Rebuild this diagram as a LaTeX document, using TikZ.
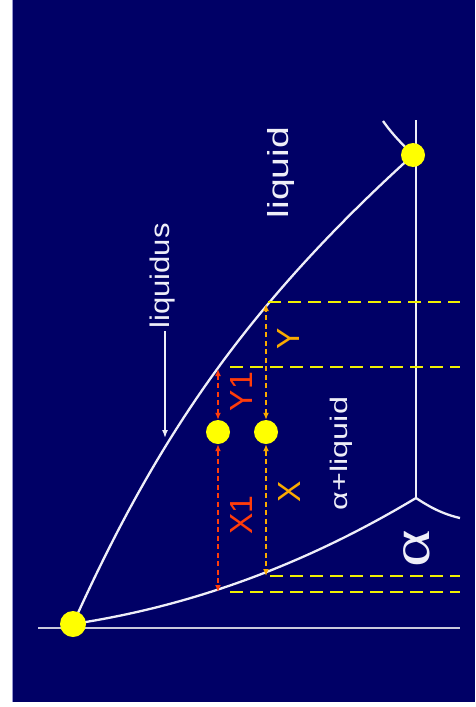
\documentclass[tikz,border=0pt]{standalone}
\usepackage{fontspec}
\setmainfont{Liberation Sans}
\newfontfamily\alphaserif{Liberation Serif}
\usetikzlibrary{arrows.meta}
\definecolor{navy}{RGB}{0,0,102}
\definecolor{dotyellow}{RGB}{255,255,0}
\definecolor{guideyellow}{RGB}{240,240,0}
\definecolor{redarr}{RGB}{255,60,10}
\definecolor{orangearr}{RGB}{250,170,0}
\definecolor{linewhite}{RGB}{238,238,248}
\definecolor{axisgrey}{RGB}{200,200,220}
\definecolor{edgeblue}{RGB}{150,150,210}
\begin{document}
\begin{tikzpicture}[x=1pt,y=-1pt,
  phaseline/.style={draw=linewhite, line width=2.3pt},
  guide/.style={draw=guideyellow, line width=2.4pt, dash pattern=on 13pt off 7pt},
  lever/.style={line width=2.3pt, dash pattern=on 5pt off 3.5pt,
    {Latex[length=7pt,width=6pt]}-{Latex[length=7pt,width=6pt]}},
  dot/.style={circle, fill=dotyellow, inner sep=0pt, minimum size=#1},
  dot/.default=24pt,
  label/.style={rotate=90, inner sep=0pt, text=linewhite},
  letter/.style={rotate=90, inner sep=0pt, font=\fontsize{32}{36}\selectfont}]
\useasboundingbox (0,0) rectangle (475,707);
\fill[white] (0,0) rectangle (475,707);
\fill[navy] (12,0) rectangle (475,702);
\draw[edgeblue, line width=1pt] (12.5,0) -- (12.5,702);

% key points
\coordinate (axL) at (38,628);
\coordinate (axR) at (460,628);
\coordinate (isoTop) at (416,120);
\coordinate (junc) at (416,498);
\coordinate (solvEnd) at (460,518);
\coordinate (topArcStart) at (383,121);
\coordinate (eutC) at (413,155);
\coordinate (mpC) at (73,624);

% axis and isotherm
\draw[phaseline, draw=axisgrey, line width=2.4pt] (axL) -- (axR);
\draw[phaseline] (isoTop) -- (junc);

% liquidus
\draw[phaseline] (eutC) .. controls (243,309) and (155,442) .. (mpC);
% solidus
\draw[phaseline] (mpC) .. controls (203,604.5) and (316,558) .. (junc);
% solvus
\draw[phaseline] (junc) .. controls (428,506) and (442,514) .. (solvEnd);
% small arc at top
\draw[phaseline] (topArcStart) .. controls (390,131) and (397,139) .. (eutC);

% guide lines
\coordinate (g1a) at (268,302); \coordinate (g1b) at (460,302);
\coordinate (g2a) at (230,367); \coordinate (g2b) at (460,367);
\coordinate (g3a) at (270,576); \coordinate (g3b) at (460,576);
\coordinate (g4a) at (230,592); \coordinate (g4b) at (460,592);
\draw[guide] (g1a) -- (g1b);
\draw[guide] (g2a) -- (g2b);
\draw[guide] (g3a) -- (g3b);
\draw[guide] (g4a) -- (g4b);

% dots
\node[dot=26pt] (mpA) at (mpC) {};
\node[dot] (eut) at (eutC) {};
\node[dot] (p1) at (218,432) {};
\node[dot] (p2) at (266,432) {};

% lever arrows
\coordinate (r1top) at (218,369);
\coordinate (r1bot) at (218,592);
\coordinate (o1top) at (266,304);
\coordinate (o1bot) at (266,576);
\draw[lever, color=redarr] (p1.north) -- (r1top);
\draw[lever, color=redarr] (p1.south) -- (r1bot);
\draw[lever, color=orangearr] (p2.north) -- (o1top);
\draw[lever, color=orangearr] (p2.south) -- (o1bot);

% labels
\node[label, font=\fontsize{27}{30}\selectfont] (liqlabel) at (162.5,276) {\scalebox{1.15}[1]{liquidus}};
\coordinate (arrStart) at (165,331);
\coordinate (arrTip) at (165,438);
\draw[draw=linewhite, line width=1.5pt, -{Latex[length=8pt,width=6pt]}] (arrStart) -- (arrTip);
\node[label, font=\fontsize{29}{32}\selectfont] (liq) at (281,172.5) {\scalebox{1.35}[1]{liquid}};
\node[label, font=\fontsize{24}{28}\selectfont] (aliq) at (341,453.5) {\scalebox{1.35}[1]{α+liquid}};
\node[label, font=\alphaserif\fontsize{55}{60}\selectfont] (alpha) at (416.5,548.5) {\scalebox{1.3}[1]{α}};

\node[letter, text=orangearr] (Ylab) at (288.5,339) {Y};
\node[letter, text=orangearr] (Xlab) at (289.5,491.5) {X};
\node[letter, text=redarr] (Y1lab) at (241.5,391.5) {Y1};
\node[letter, text=redarr] (X1lab) at (241.5,515) {X1};
\end{tikzpicture}
\end{document}
